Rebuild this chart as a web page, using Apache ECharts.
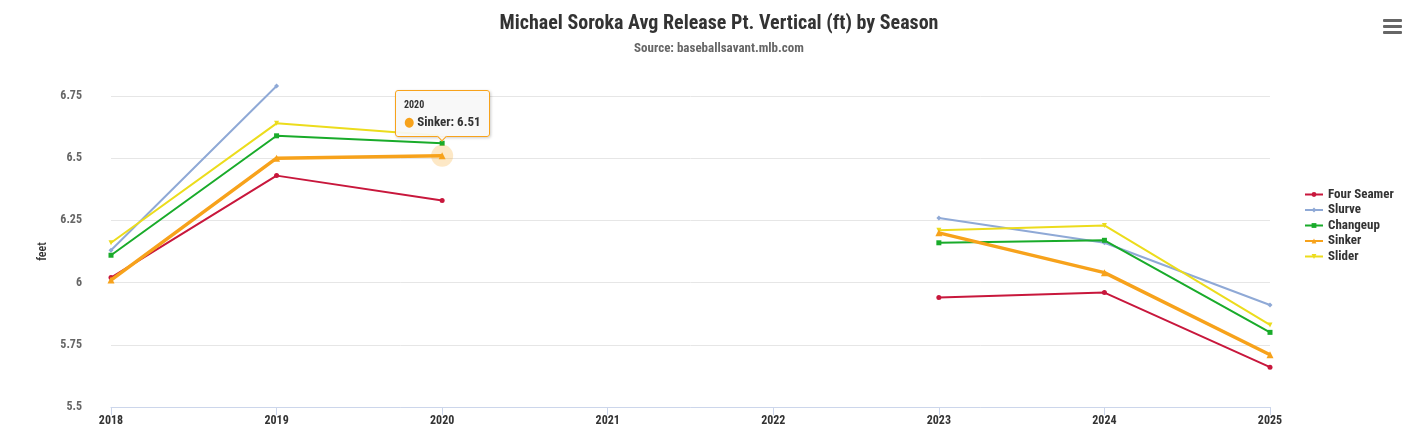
<!DOCTYPE html>
<html>
<head>
<meta charset="utf-8">
<script src="https://cdn.jsdelivr.net/npm/echarts@6/dist/echarts.min.js"></script>
<style>
  html, body { margin: 0; padding: 0; background: #fff; }
  #chart { width: 1412px; height: 442px; }
</style>
</head>
<body>
<div id="chart"></div>
<script>
var FONT = '"Roboto Condensed", "Liberation Sans Narrow", "DejaVu Sans Condensed", Roboto, sans-serif';

// seasons on the x axis (2021, 2022 have no data)
var seasons = [2018, 2019, 2020, 2021, 2022, 2023, 2024, 2025];
var yTicks = [5.5, 5.75, 6, 6.25, 6.5, 6.75];

var fourSeamer = [6.02, 6.43, 6.33, null, null, 5.94, 5.96, 5.66];
var slurve     = [6.13, 6.79, null, null, null, 6.26, 6.16, 5.91];
var changeup   = [6.11, 6.59, 6.56, null, null, 6.16, 6.17, 5.80];
var sinker     = [6.01, 6.50, 6.51, null, null, 6.20, 6.04, 5.71];
var slider     = [6.16, 6.64, 6.59, null, null, 6.21, 6.23, 5.83];

var pitchNames = ["Four Seamer", "Slurve", "Changeup", "Sinker", "Slider"];
var pitchColors = ["#c8173c", "#8fa9d6", "#19ab2a", "#f7a21b", "#ecdc1c"];
var pitchSymbols = ["circle", "diamond", "rect", "triangle", "path://M0,0 L10,0 L5,10 Z"];
var pitchValues = [fourSeamer, slurve, changeup, sinker, slider];

function pairs(values) {
	return seasons.map(function (yr, i) {
		return [yr, values[i]];
	});
}

var chart = echarts.init(document.getElementById("chart"));

var series = pitchNames.map(function (name, i) {
	var isSinker = name === "Sinker";
	var s = {
		name: name,
		type: "line",
		data: pairs(pitchValues[i]),
		symbol: pitchSymbols[i],
		symbolSize: isSinker ? 7 : 5,
		showSymbol: true,
		clip: false,
		connectNulls: false,
		color: pitchColors[i],
		lineStyle: { width: isSinker ? 3.5 : 2 },
		emphasis: { disabled: true },
		z: isSinker ? 5 : 2
	};
	if (isSinker) {
		// hover halo on the 2020 point
		s.markPoint = {
			silent: true,
			symbol: "circle",
			symbolSize: 22,
			label: { show: false },
			itemStyle: { color: "rgba(247,162,27,0.25)" },
			data: [{ coord: [seasons[2], sinker[2]] }]
		};
	}
	return s;
});

var option = {
	animation: false,
	textStyle: { fontFamily: FONT },
	title: {
		text: "Michael Soroka Avg Release Pt. Vertical (ft) by Season",
		subtext: "Source: baseballsavant.mlb.com",
		left: 714,
		textAlign: "center",
		top: 9,
		itemGap: 8,
		textStyle: { fontFamily: FONT, fontSize: 20, fontWeight: "bold", color: "#333" },
		subtextStyle: { fontFamily: FONT, fontSize: 13, fontWeight: "bold", color: "#666" }
	},
	grid: {
		left: 111,
		right: 142,
		top: 96,
		bottom: 35
	},
	legend: {
		orient: "vertical",
		left: 1299,
		top: 183,
		itemWidth: 18,
		itemHeight: 6,
		itemGap: 2.5,
		data: pitchNames,
		textStyle: { fontFamily: FONT, fontSize: 13, fontWeight: "bold", color: "#333" }
	},
	tooltip: {
		trigger: "item",
		triggerOn: "none",
		alwaysShowContent: true,
		transitionDuration: 0,
		position: "top",
		backgroundColor: "rgba(247,247,247,0.92)",
		borderColor: pitchColors[3],
		borderWidth: 1,
		padding: [6, 8, 5, 8],
		extraCssText: "border-radius:3px;margin-top:-5px;box-shadow:1px 1px 3px rgba(0,0,0,0.2);",
		formatter: function (p) {
			return '<div style="font:bold 10px ' + FONT.replace(/"/g, "'") + ';color:#333;line-height:16px">' + p.value[0] + "</div>" +
				'<div style="font:bold 13px ' + FONT.replace(/"/g, "'") + ';color:#333;line-height:18px">' +
				'<span style="color:' + p.color + '">\u25CF</span> ' + p.seriesName + ": " + p.value[1] + "</div>";
		}
	},
	xAxis: {
		type: "value",
		min: seasons[0],
		max: seasons[seasons.length - 1],
		interval: 1,
		splitLine: { show: false },
		axisLine: { lineStyle: { color: "#ccd6eb" } },
		axisTick: { show: true, length: 8, lineStyle: { color: "#ccd6eb" } },
		axisLabel: {
			color: "#333",
			fontFamily: FONT,
			fontWeight: "bold",
			fontSize: 12,
			margin: 8,
			formatter: function (v) { return String(v); }
		}
	},
	yAxis: {
		type: "value",
		name: "feet",
		nameLocation: "middle",
		nameGap: 55,
		nameRotate: 90,
		nameTextStyle: { color: "#333", fontFamily: FONT, fontSize: 12, fontWeight: 500 },
		min: yTicks[0],
		max: yTicks[yTicks.length - 1],
		interval: 0.25,
		axisLine: { show: false },
		axisTick: { show: false },
		splitLine: { lineStyle: { color: "#e6e6e6" } },
		axisLabel: {
			color: "#666",
			fontFamily: FONT,
			fontWeight: "bold",
			fontSize: 12,
			margin: 29,
			formatter: function (v) { return String(+v.toFixed(2)); }
		}
	},
	graphic: [
		{
			type: "group",
			right: 10,
			top: 19,
			children: [0, 6, 12].map(function (dy) {
				return {
					type: "rect",
					shape: { x: 0, y: dy, width: 19, height: 3, r: 1 },
					style: { fill: "#666" }
				};
			})
		}
	],
	series: series
};

chart.setOption(option);
chart.dispatchAction({ type: "showTip", seriesIndex: 3, dataIndex: 2 });
</script>
</body>
</html>
